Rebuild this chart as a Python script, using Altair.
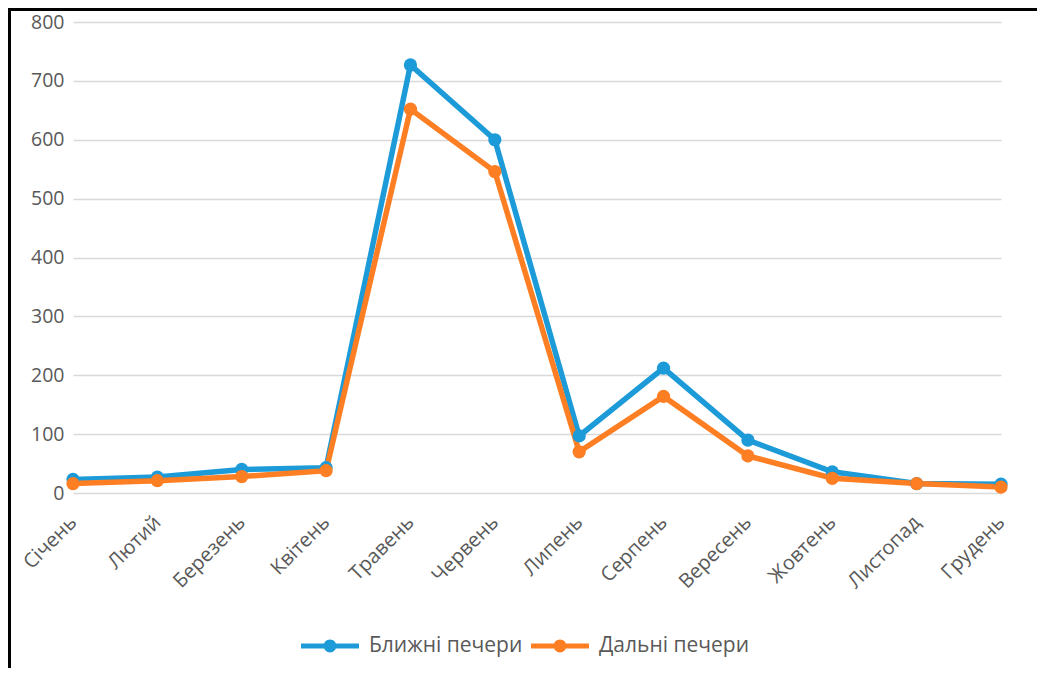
import altair as alt
import pandas as pd

months = ["Січень", "Лютий", "Березень", "Квітень", "Травень", "Червень",
          "Липень", "Серпень", "Вересень", "Жовтень", "Листопад", "Грудень"]
series_names = ["Ближні печери", "Дальні печери"]
near = [23, 27, 40, 43, 727, 600, 97, 212, 90, 36, 16, 15]
far = [16, 21, 28, 38, 652, 546, 70, 164, 63, 25, 16, 10]
colors = ["#1C9BD8", "#FD7E23"]
y_ticks = [0, 100, 200, 300, 400, 500, 600, 700, 800]

rows = []
for i, m in enumerate(months):
    rows.append({"month": m, "series": series_names[0], "value": near[i], "order": 0})
for i, m in enumerate(months):
    rows.append({"month": m, "series": series_names[1], "value": far[i], "order": 1})
df = pd.DataFrame(rows)

FONT = "Open Sans"
LABEL_COLOR = "#595959"

x_enc = alt.X("month:N", sort=months,
              scale=alt.Scale(type="point", padding=0),
              axis=alt.Axis(title=None, labelAngle=-45, labelAlign="right",
                            labelBaseline="middle", labelPadding=26,
                            labelFont=FONT, labelFontSize=20, labelColor=LABEL_COLOR,
                            domain=False, ticks=False, grid=False, labelOverlap=False))
y_enc = alt.Y("value:Q", scale=alt.Scale(domain=[0, 800], nice=False),
              axis=alt.Axis(title=None, values=y_ticks, labelFont=FONT,
                            labelFontSize=19.5, labelColor=LABEL_COLOR, labelPadding=9,
                            domain=False, ticks=False, grid=True,
                            gridColor="#D9D9D9", gridWidth=1.6))
color_scale = alt.Scale(domain=series_names, range=colors)

lines = alt.Chart(df).mark_line(strokeWidth=5.5).encode(
    x=x_enc, y=y_enc,
    stroke=alt.Stroke("series:N", scale=color_scale, legend=None),
    detail="series:N",
    order="order:Q",
)

legend_path = ("M -1 -0.09 L 1 -0.09 L 1 0.09 L -1 0.09 Z "
               "M 0.22 0 A 0.22 0.22 0 1 1 -0.22 0 A 0.22 0.22 0 1 1 0.22 0 Z")

points = alt.Chart(df).mark_point(filled=True, size=175, opacity=1).encode(
    x=alt.X("month:N", sort=months),
    y="value:Q",
    color=alt.Color("series:N", scale=color_scale,
                    legend=alt.Legend(title=None, orient="none", direction="horizontal",
                                      columns=2, legendX=228, legendY=595,
                                      symbolType=legend_path, symbolSize=3364,
                                      symbolStrokeWidth=0, symbolOpacity=1,
                                      labelFont=FONT, labelFontSize=21,
                                      labelColor=LABEL_COLOR, labelOffset=10,
                                      columnPadding=8, padding=0)),
)

frame = alt.Chart(df).mark_rect(fill=None, stroke="#000000", strokeWidth=2.5,
                                clip=False).encode(
    x=alt.value(-63.5), x2=alt.value(1010), y=alt.value(-12.5), y2=alt.value(720)
)

chart = alt.layer(lines, points, frame).resolve_scale(color="independent").properties(
    width=928, height=471,
    background="white",
    autosize=alt.AutoSizeParams(type="none"),
    padding={"left": 65, "top": 14, "right": 36, "bottom": 175},
).configure_view(stroke=None, strokeWidth=0)

chart.save("out.html", embed_options={"renderer": "svg", "actions": False})
